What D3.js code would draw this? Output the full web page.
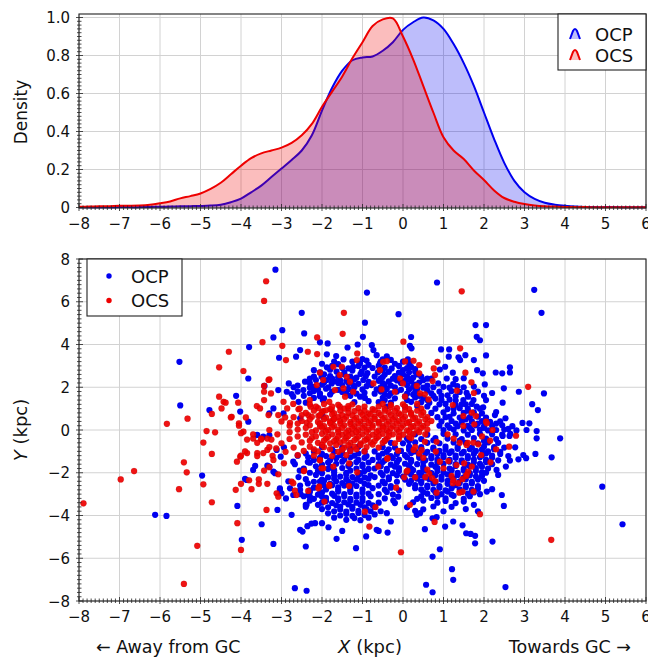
<!DOCTYPE html>
<html><head><meta charset="utf-8">
<script src="https://cdn.jsdelivr.net/npm/d3@7"></script>
<style>
body{margin:0;background:#fff;}
svg text{font-family:"DejaVu Sans",sans-serif;fill:#111;}
</style></head>
<body><svg id="c" width="648" height="660"></svg>
<script>
// ---------- DATA ----------
const kdeX = [-8,-7.75,-7.5,-7.25,-7,-6.75,-6.5,-6.25,-6,-5.75,-5.5,-5.25,-5,-4.75,-4.5,-4.25,-4,-3.75,-3.5,-3.25,-3,-2.75,-2.5,-2.25,-2,-1.75,-1.5,-1.25,-1,-0.75,-0.5,-0.25,0,0.25,0.5,0.75,1,1.25,1.5,1.75,2,2.25,2.5,2.75,3,3.25,3.5,3.75,4,4.25,4.5,4.75,5,5.25,5.5,5.75,6];
const kdeOCP = [0.001,0.001,0.001,0.001,0.002,0.002,0.002,0.003,0.004,0.005,0.006,0.007,0.008,0.01,0.015,0.028,0.047,0.08,0.115,0.16,0.205,0.25,0.3,0.38,0.51,0.63,0.72,0.775,0.79,0.795,0.825,0.87,0.935,0.975,1.0,0.985,0.94,0.86,0.76,0.64,0.5,0.36,0.235,0.14,0.08,0.045,0.025,0.015,0.009,0.005,0.003,0.002,0.002,0.002,0.001,0.001,0.001];
const kdeOCS = [0.004,0.005,0.006,0.007,0.009,0.009,0.01,0.014,0.022,0.032,0.048,0.06,0.074,0.098,0.13,0.175,0.22,0.26,0.285,0.3,0.315,0.34,0.38,0.44,0.53,0.61,0.69,0.785,0.87,0.955,0.99,0.995,0.9,0.78,0.64,0.5,0.37,0.3,0.255,0.195,0.145,0.09,0.05,0.03,0.018,0.011,0.007,0.005,0.003,0.002,0.002,0.001,0.001,0.001,0.001,0.001,0.001];

const pointsOCP = [
[-3.15,7.5],[-5.52,3.19],[-5.5,1.15],[-2.5,5.48],[-2.44,4.52],[-2.98,4.67],[-3.2,4.33],[-3.06,3.38],[-3.8,3.88],[-3.82,2.41],[-4.12,1.6],[-4.78,0.93],[-4.02,0.86],[-3.82,0.39],[-2.54,3.74],[-2.64,3.43],[-3.42,2.06],[-3.08,1.87],[-2.82,2.18],[-2.05,4.1],[-1.86,4.05],[-1.88,3.54],[-1.65,3.46],[-1.37,3.86],[-1.12,4.0],[-0.99,4.36],[-0.94,5.02],
[-3.3,0.78],[-3.2,1.01],[-2.95,0.78],[-2.54,0.55],[-1.97,0.62],
[0.84,6.9],[3.24,6.56],[3.42,5.48],[-0.89,6.43],[-0.11,5.42],[1.79,4.91],[2.05,4.91],[1.82,4.36],[1.9,4.2],[0.2,4.35],[0.17,3.94],[0.21,3.82],[0.94,3.77],[1.14,3.77],[1.13,3.43],[1.37,3.4],[1.41,3.27],[1.54,3.5],[1.75,3.27],[2.05,3.49],[-0.77,3.97],[-0.73,3.74],
[1.83,2.8],[1.97,2.65],[2.29,2.69],[2.45,2.65],[2.64,2.93],[2.64,2.69],[2.02,2.13],[2.2,1.73],[2.49,1.95],[2.86,1.79],[3.48,1.71],[3.19,1.21],[3.33,0.93],[2.53,0.55],[2.3,0.84],[2.95,0.33],[3.12,0.31],[2.46,1.28],[1.04,2.96],[1.23,2.68],[0.91,2.83],[1.08,2.41],[0.87,2.18],[1.24,2.15],[1.34,2.05],[1.57,1.74],[1.61,1.56],[1.49,1.4],[1.74,1.4],[1.82,1.09],[1.98,1.06],[2.27,0.7],
[4.92,-2.65],[5.42,-4.41],[3.88,-0.39],[3.3,-0.39],[3.67,-1.28],[3.27,-1.12],[2.97,-1.17],[3.04,-1.32],[2.85,-1.37],[2.64,-1.43],[2.54,-1.71],[2.31,-1.87],[2.35,-2.1],[2.44,-3.04],[2.49,-3.55],[2.21,-5.22],[2.2,-2.77],[2.07,-2.88],[2.46,-0.28],[2.63,-0.28],[2.77,-0.81],[1.78,-4.95],[1.67,-4.86],[1.56,-4.83],[1.78,-5.3],[1.24,-4.28],[1.04,-4.52],[0.91,-5.58],[0.73,-5.92],[0.54,-4.64],[0.83,-4.08],[0.34,-3.97],[0.42,-3.89],[0.5,-3.71],[0.73,-4.13],[-0.38,-4.8],[-0.65,-4.67],[-0.3,-4.28],[-0.4,-3.89],[-0.12,-3.12],[-0.24,-3.3],[2.53,-7.35],[1.24,-7.01],[1.21,-6.51],[0.73,-7.59],[0.57,-7.24],[-0.91,-4.98],[-0.6,-4.72],[1.47,-4.46],[-2.67,-7.4],[-2.38,-7.52],
[-4.96,-2.13],[-6.12,-3.97],[-5.84,-4.02],[-4.09,-3.55],[-3.98,-5.14],[-3.49,-4.41],[-3.2,-5.33],[-3.1,-3.74],[-2.75,-3.97],[-2.4,-5.45],[-2.4,-3.5],[-2.54,-4.67],[-2.48,-4.75],[-2.36,-4.5],[-2.26,-4.38],[-2.17,-4.36],[-2.0,-4.36],[-1.84,-4.55],[-1.5,-4.72],[-1.64,-5.09],[-1.16,-5.53],[-3.65,-1.68],[-3.7,-1.87],[-3.9,-2.29],[-3.86,-2.34],[-3.35,-1.67],[-3.02,-1.25],[-3.16,-2.02],[-3.3,-1.71],[-3.2,-1.95],[-3.12,-0.93],[-2.94,-0.81],[-2.71,-1.48],[-2.34,-1.28],[-2.3,-1.53],[-3.04,-2.73],[-3.0,-2.96],[-2.79,-2.73],[-2.71,-3.04],[-2.54,-2.8],[-2.38,-3.5],[-2.34,-3.04],[-2.3,-3.12],[-2.05,-2.96],[-1.97,-2.57],[-2.05,-2.41],[-3.6,-0.23],[-3.45,-0.31],[-3.3,-0.25],
[-1.47,3.3],[-1.0,3.32],[-0.9,3.25],[-2.0,3.1],[-1.6,3.08],[-1.06,3.12],[-0.85,3.05],[-1.88,2.93],[-1.5,2.9],[-1.35,2.88],[-1.23,2.96],[-0.95,2.92],[-2.05,2.7],[-1.64,2.73],[-1.45,2.68],[-1.02,2.73],[-0.88,2.66],[-2.2,2.5],[-2.01,2.49],[-1.8,2.52],[-1.6,2.47],[-1.3,2.5],[-1.15,2.45],[-0.92,2.52],[-2.42,2.26],[-2.15,2.34],[-1.88,2.34],[-1.7,2.28],[-1.55,2.32],[-1.4,2.3],[-0.98,2.34],[-0.85,2.25],[-2.6,2.08],[-2.21,2.02],[-2.0,2.12],[-1.76,2.18],[-1.5,2.1],[-1.23,2.1],[-1.1,2.16],[-0.9,2.05],[-2.87,1.79],[-2.46,1.87],[-2.1,1.9],[-1.9,1.93],[-1.6,1.88],[-1.35,1.92],[-1.0,1.9],[-2.75,1.68],[-2.3,1.72],[-2.05,1.7],[-1.8,1.66],[-1.4,1.72],[-1.15,1.7],[-0.95,1.74],[-2.71,1.56],[-2.2,1.5],[-1.95,1.48],[-1.06,1.56],[-0.94,1.5],[-2.58,1.32],[-2.4,1.28],[-1.98,1.4],[-1.2,1.3],
[-0.65,3.5],[-0.4,3.45],[-0.5,3.3],[-0.3,3.28],[0.12,3.3],[-0.57,3.11],[-0.2,3.1],[0.15,3.12],[-0.75,2.9],[-0.45,2.92],[-0.28,2.88],[0.1,2.9],[0.2,2.95],[-0.62,2.7],[-0.35,2.72],[-0.1,2.68],[0.15,2.7],[0.3,2.72],[-0.7,2.5],[-0.5,2.48],[-0.2,2.52],[0.1,2.5],[0.25,2.45],[0.45,2.5],[-0.6,2.3],[-0.35,2.28],[-0.15,2.32],[0.05,2.3],[0.2,2.27],[0.5,2.33],[-0.78,2.1],[-0.45,2.12],[-0.3,2.08],[0.1,2.1],[0.3,2.12],[0.6,2.08],[-0.65,1.9],[-0.4,1.92],[-0.05,1.88],[0.15,1.9],[0.35,1.93],[-0.7,1.7],[-0.45,1.68],[-0.3,1.72],[0.1,1.7],[0.25,1.66],[0.7,1.72],[-0.5,1.5],[-0.2,1.48],[0.3,1.52],[0.5,1.5],[0.8,1.47],[-0.6,1.3],[-0.3,1.28],[0.2,1.32],[0.45,1.3],[0.65,1.27],[-0.4,1.1],[0.05,1.08],[0.35,1.12],[0.6,1.1],
[0.7,2.4],[1.3,2.38],[1.5,2.42],[0.75,2.0],[1.0,2.02],[1.15,1.98],[1.5,2.0],[1.75,2.03],[0.9,1.8],[1.2,1.82],[1.4,1.78],[1.85,1.8],[0.95,1.6],[1.1,1.62],[1.3,1.58],[2.0,1.6],[0.95,1.4],[1.15,1.42],[1.3,1.38],[2.05,1.4],[0.9,1.2],[1.05,1.22],[1.3,1.18],[1.55,1.2],[1.7,1.22],[0.8,1.0],[1.1,0.98],[1.4,1.02],[1.6,1.0],[0.7,0.8],[1.0,0.82],[1.25,0.78],[1.5,0.8],[1.75,0.82],[1.95,0.78],[0.85,0.6],[1.15,0.62],[1.4,0.58],[1.65,0.6],[1.85,0.62],[2.05,0.58],[0.95,0.4],[1.2,0.42],[1.45,0.38],[1.7,0.4],[1.95,0.42],[2.15,0.38],[2.4,0.4],[0.9,0.2],[1.1,0.22],[1.35,0.18],[1.6,0.2],[1.8,0.22],[2.0,0.18],[2.2,0.2],[2.45,0.22],[2.7,0.18],[1.0,0.0],[1.25,0.02],[1.5,-0.02],[1.7,0.0],[1.9,0.02],[2.1,-0.02],[2.3,0.0],[2.5,0.02],[2.8,-0.02],[3.05,0.0],[3.3,-0.05],
[0.3,-0.2],[0.6,-0.22],[1.0,-0.18],[1.3,-0.2],[1.6,-0.22],[1.9,-0.18],[2.2,-0.2],[2.45,-0.22],[2.65,-0.18],[0.1,-0.4],[0.45,-0.42],[0.8,-0.38],[1.1,-0.4],[1.45,-0.42],[1.75,-0.38],[2.05,-0.4],[2.3,-0.42],[-0.3,-0.6],[0.0,-0.62],[0.3,-0.58],[0.6,-0.6],[0.9,-0.62],[1.25,-0.58],[1.55,-0.6],[1.85,-0.62],[2.1,-0.58],[2.35,-0.6],[-0.5,-0.8],[-0.2,-0.82],[0.15,-0.78],[0.45,-0.8],[0.75,-0.82],[1.05,-0.78],[1.35,-0.8],[1.7,-0.82],[2.0,-0.78],[2.25,-0.8],[2.5,-0.82],[-0.7,-1.0],[-0.4,-1.02],[-0.05,-0.98],[0.3,-1.0],[0.6,-1.02],[0.9,-0.98],[1.2,-1.0],[1.5,-1.02],[1.8,-0.98],[2.1,-1.0],[2.4,-1.02],[-0.6,-1.2],[-0.3,-1.22],[0.05,-1.18],[0.4,-1.2],[0.7,-1.22],[1.0,-1.18],[1.3,-1.2],[1.6,-1.22],[1.95,-1.18],[2.2,-1.2],[2.6,-1.22],[-0.75,-1.4],[-0.45,-1.42],[-0.1,-1.38],[0.2,-1.4],[0.55,-1.42],[0.85,-1.38],[1.15,-1.4],[1.45,-1.42],[1.75,-1.38],[2.05,-1.4],[2.35,-1.42],[-0.6,-1.6],[-0.3,-1.62],[0.05,-1.58],[0.35,-1.6],[0.7,-1.62],[1.0,-1.58],[1.3,-1.6],[1.6,-1.62],[1.9,-1.58],[2.2,-1.6],[-0.7,-1.8],[-0.4,-1.82],[-0.1,-1.78],[0.2,-1.8],[0.5,-1.82],[0.85,-1.78],[1.15,-1.8],[1.5,-1.82],[1.8,-1.78],[2.1,-1.8],[-0.55,-2.0],[-0.25,-2.02],[0.1,-1.98],[0.4,-2.0],[0.7,-2.02],[1.0,-1.98],[1.35,-2.0],[1.65,-2.02],[1.95,-1.98],[-0.7,-2.2],[-0.35,-2.22],[0.0,-2.18],[0.3,-2.2],[0.55,-2.22],[0.95,-2.18],[1.2,-2.2],[1.5,-2.22],[1.8,-2.18],[-0.5,-2.4],[-0.15,-2.42],[0.2,-2.38],[0.45,-2.4],[0.8,-2.42],[1.1,-2.38],[1.4,-2.4],[1.7,-2.42],[2.0,-2.38],[-0.6,-2.6],[-0.3,-2.62],[0.3,-2.58],[0.6,-2.6],[0.9,-2.62],[1.3,-2.58],[1.55,-2.6],[1.85,-2.62],[-0.45,-2.8],[-0.1,-2.82],[0.45,-2.78],[0.75,-2.8],[1.05,-2.82],[1.4,-2.78],[1.7,-2.8],[-0.6,-3.0],[-0.25,-3.02],[0.6,-2.98],[0.95,-3.0],[1.2,-3.02],[1.6,-2.98],[1.9,-3.0],[-0.45,-3.2],[0.35,-3.22],[0.7,-3.18],[1.05,-3.2],[1.5,-3.22],[-0.6,-3.4],[-0.2,-3.42],[0.25,-3.38],[0.85,-3.4],[1.3,-3.42],[1.75,-3.5],[-0.7,-3.6],[0.1,-3.62],[0.75,-3.58],[1.2,-3.6],[1.55,-3.7],[-0.55,-3.8],[0.3,-3.78],[1.0,-3.8],[1.85,-3.8],
[-2.0,-0.8],[-1.5,-0.82],[-1.1,-0.78],[-2.2,-1.0],[-1.7,-1.02],[-1.3,-0.98],[-0.95,-1.0],[-2.6,-1.2],[-1.9,-1.22],[-1.55,-1.18],[-1.2,-1.2],[-0.9,-1.22],[-2.2,-1.4],[-1.8,-1.42],[-1.45,-1.38],[-1.1,-1.4],[-2.67,-1.6],[-2.0,-1.62],[-1.65,-1.58],[-1.3,-1.6],[-1.0,-1.62],[-2.45,-1.8],[-1.85,-1.82],[-1.5,-1.78],[-1.15,-1.8],[-0.85,-1.82],[-2.3,-2.0],[-2.0,-2.02],[-1.7,-1.98],[-1.4,-2.0],[-1.05,-2.02],[-2.58,-2.2],[-1.85,-2.22],[-1.55,-2.18],[-1.25,-2.2],[-0.95,-2.22],[-2.83,-2.4],[-2.2,-2.42],[-1.95,-2.38],[-1.65,-2.4],[-1.35,-2.42],[-1.05,-2.38],[-2.54,-2.6],[-2.05,-2.62],[-1.75,-2.58],[-1.45,-2.6],[-1.15,-2.62],[-0.85,-2.58],[-3.04,-2.8],[-2.3,-2.82],[-1.9,-2.78],[-1.6,-2.8],[-1.3,-2.82],[-1.0,-2.78],[-2.53,-3.0],[-2.1,-3.02],[-1.75,-2.98],[-1.45,-3.0],[-1.15,-3.02],[-0.85,-2.98],[-2.89,-3.2],[-2.2,-3.22],[-1.9,-3.18],[-1.6,-3.2],[-1.3,-3.22],[-1.0,-3.18],[-2.0,-3.4],[-1.75,-3.42],[-1.45,-3.38],[-1.15,-3.4],[-0.85,-3.42],[-2.4,-3.6],[-1.85,-3.62],[-1.55,-3.58],[-1.25,-3.6],[-0.95,-3.62],[-1.7,-3.8],[-1.4,-3.82],[-1.1,-3.78],[-0.8,-3.8],[-1.55,-4.0],[-1.25,-4.02],[-0.95,-3.98],[-1.4,-4.2],[-1.05,-4.22],
[-1.75,-0.9],[-1.3,-0.88],[-2.4,-1.1],[-2.0,-1.12],[-1.5,-1.08],[-1.1,-1.1],[-2.05,-1.3],[-1.65,-1.32],[-1.3,-1.28],[-0.95,-1.3],[-2.35,-1.5],[-1.85,-1.52],[-1.5,-1.48],[-1.15,-1.5],[-0.85,-1.52],[-2.15,-1.7],[-1.8,-1.72],[-1.35,-1.68],[-1.0,-1.7],[-2.55,-1.9],[-2.1,-1.92],[-1.7,-1.88],[-1.3,-1.9],[-0.95,-1.92],[-2.15,-2.1],[-1.7,-2.12],[-1.4,-2.08],[-1.1,-2.1],[-0.8,-2.12],[-2.4,-2.3],[-2.0,-2.32],[-1.7,-2.28],[-1.4,-2.3],[-1.15,-2.32],[-0.85,-2.28],[-2.35,-2.5],[-1.8,-2.52],[-1.5,-2.48],[-1.25,-2.5],[-0.95,-2.52],[-2.2,-2.7],[-1.9,-2.72],[-1.6,-2.68],[-1.3,-2.7],[-0.75,-2.72],[-2.3,-2.9],[-2.0,-2.92],[-1.6,-2.88],[-1.3,-2.9],[-1.0,-2.92],[-2.45,-3.1],[-2.0,-3.12],[-1.7,-3.08],[-1.45,-3.1],[-1.15,-3.12],[-0.8,-3.1],[-2.3,-3.3],[-1.9,-3.32],[-1.6,-3.28],[-1.3,-3.3],[-1.0,-3.32],[-2.1,-3.5],[-1.65,-3.52],[-1.35,-3.48],[-1.05,-3.5],[-0.75,-3.52],[-2.0,-3.7],[-1.55,-3.72],[-1.25,-3.68],[-0.9,-3.7],[-1.85,-3.9],[-1.4,-3.92],[-1.1,-3.88],[-0.7,-3.95],[-1.7,-4.1],[-1.2,-4.12],[-0.85,-4.1],
[-0.45,-0.5],[0.15,-0.52],[0.75,-0.48],[1.4,-0.5],[2.0,-0.52],[-0.35,-0.9],[0.15,-0.92],[0.45,-0.88],[0.75,-0.9],[1.05,-0.92],[1.35,-0.88],[1.65,-0.9],[1.95,-0.92],[2.25,-0.9],[-0.5,-1.1],[-0.15,-1.12],[0.2,-1.08],[0.55,-1.1],[0.85,-1.12],[1.15,-1.08],[1.45,-1.1],[1.75,-1.12],[2.05,-1.1],[2.4,-1.12],[-0.6,-1.3],[-0.25,-1.32],[0.1,-1.28],[0.4,-1.3],[0.7,-1.32],[1.0,-1.28],[1.3,-1.3],[1.6,-1.32],[1.9,-1.28],[2.2,-1.3],[-0.5,-1.5],[-0.15,-1.52],[0.2,-1.48],[0.5,-1.5],[0.85,-1.52],[1.15,-1.48],[1.45,-1.5],[1.75,-1.52],[2.05,-1.5],[-0.55,-1.7],[-0.2,-1.72],[0.15,-1.68],[0.5,-1.7],[0.8,-1.72],[1.3,-1.68],[1.65,-1.7],[1.95,-1.72],[-0.4,-1.9],[-0.1,-1.92],[0.25,-1.88],[0.55,-1.9],[0.85,-1.92],[1.2,-1.88],[1.5,-1.9],[1.8,-1.92],[2.05,-2.0],[-0.5,-2.1],[-0.15,-2.12],[0.2,-2.08],[0.45,-2.1],[0.8,-2.12],[1.1,-2.08],[1.35,-2.1],[1.65,-2.12],[1.95,-2.15],[-0.35,-2.3],[0.05,-2.32],[0.35,-2.28],[0.65,-2.3],[0.95,-2.32],[1.25,-2.28],[1.55,-2.3],[1.85,-2.32],[-0.45,-2.5],[0.15,-2.52],[0.45,-2.48],[0.75,-2.5],[1.1,-2.52],[1.4,-2.48],[1.7,-2.5],[-0.3,-2.7],[0.3,-2.72],[0.6,-2.68],[0.9,-2.7],[1.2,-2.72],[1.55,-2.68],[1.85,-2.75],[-0.4,-2.9],[0.5,-2.9],[0.8,-2.92],[1.1,-2.88],[1.45,-2.9],[1.75,-2.92],[0.45,-3.1],[0.85,-3.12],[1.25,-3.08],[1.65,-3.1],[0.5,-3.3],[1.05,-3.32],[1.5,-3.35],
[-1.7,3.2],[-1.25,3.2],[-1.75,3.0],[-1.1,3.0],[-2.2,2.8],[-1.8,2.82],[-1.25,2.78],[-1.95,2.6],[-1.45,2.6],[-1.05,2.62],[-2.3,2.4],[-1.75,2.4],[-1.2,2.38],[-2.3,2.2],[-1.95,2.22],[-1.6,2.2],[-1.35,2.2],[-2.7,2.0],[-2.3,1.98],[-1.85,2.0],[-1.2,2.0],[-2.6,1.8],[-2.2,1.82],[-1.75,1.8],[-1.5,1.78],[-1.25,1.82],[-2.45,1.6],[-2.05,1.58],[-1.3,1.6],[-0.85,1.35],[-0.55,3.2],[0.0,3.2],[-0.6,3.0],[-0.1,3.0],[-0.5,2.8],[0.0,2.8],[0.3,2.85],[-0.45,2.6],[0.0,2.6],[0.35,2.6],[-0.55,2.4],[-0.25,2.4],[0.15,2.38],[0.6,2.4],[-0.5,2.2],[-0.05,2.2],[0.4,2.22],[-0.55,2.0],[-0.2,2.0],[0.25,2.02],[0.5,1.98],[-0.55,1.8],[-0.15,1.8],[0.3,1.78],[0.6,1.85],[-0.35,1.6],[0.05,1.58],[0.4,1.6],[0.75,1.6],[-0.45,1.4],[0.1,1.4],[0.6,1.4],[1.6,1.6],[1.45,1.2],[1.25,1.0],[1.9,1.0],[1.6,0.9],[1.05,0.6],[1.55,0.5],[1.3,0.3],[1.85,0.3],[2.3,0.3],[1.15,0.1],[1.65,0.1],[2.0,0.1],[2.6,0.05]
];

const pointsOCS = [
[-3.43,6.04],[-3.38,6.96],[-3.47,4.11],[-2.98,3.94],[-4.3,3.66],[-2.89,3.27],[-4.54,2.93],[-3.94,2.76],[-5.83,0.29],[-5.32,0.53],[-4.54,1.56],[-4.43,1.32],[-4.38,1.28],[-4.48,1.01],[-4.23,0.62],[-4.05,0.31],[-3.94,-0.08],[-4.85,-0.05],[-4.64,-0.11],[-4.93,-0.59],[-3.3,2.37],[-3.43,1.79],[-3.26,1.71],[-3.61,1.12],
[-1.46,5.48],[-1.49,4.5],[-2.12,4.33],[-2.35,3.66],[-2.12,3.55],[-3.32,2.34],[-3.43,2.06],[-4.72,0.75],[-4.25,0.59],[-4.07,1.28],[-3.88,0.59],[-3.53,1.01],[-3.43,1.4],[-3.32,0.7],[-3.08,0.7],[-2.95,1.32],[-2.86,1.01],[-2.71,1.22],[-2.58,0.97],[-2.91,0.59],[-2.79,0.34],[-2.38,0.34],[-2.3,1.4],[-2.28,1.09],[-2.34,0.7],[-2.09,0.65],[-1.97,0.89],[-1.76,0.94],[-1.82,1.32],[-2.05,2.68],[-1.97,2.34],[-2.13,2.1],[-1.72,2.96],[-1.51,2.96],[-1.56,2.57],[-1.39,2.49],[-1.31,2.26],[-1.47,1.95],[-1.68,1.87],[-1.43,1.56],[-1.23,1.79],[-1.13,3.58],[-1.14,3.27],[-1.72,0.47],[-2.05,0.19],[-1.56,1.09],[-1.35,1.01],
[1.45,6.49],[3.09,2.02],[1.41,3.82],[1.54,2.68],[1.69,2.23],[0.01,4.13],[0.05,3.21],[0.26,3.24],[0.4,3.04],[0.4,2.65],[0.85,3.19],[0.76,2.88],[0.79,2.57],[0.73,2.29],[1.75,1.73],[1.33,1.84],[1.23,1.17],[1.7,0.81],[1.49,0.65],[1.8,0.65],[2.05,0.39],[-0.49,3.19],[-0.4,3.22],[-0.57,2.8],[-0.73,2.18],[-0.53,1.9],[-0.07,2.41],[0.0,2.18],[-0.2,1.79],[0.05,1.56],[0.34,2.06],[0.42,1.71],[0.54,1.67],[0.63,1.43],
[-7.89,-3.43],[-6.97,-2.31],[-6.64,-1.92],[-4.72,-1.12],[-5.41,-1.51],[-5.34,-1.98],[-5.53,-2.77],[-4.93,-2.54],[-4.72,-3.38],[-5.08,-5.42],[-5.41,-7.2],[-4.09,-4.36],[-4.0,-5.61],[-4.13,-2.8],[-4.0,-2.52],[-3.74,-2.77],[-3.8,-2.35],[-3.56,-2.31],[-3.56,-2.52],[-3.35,-2.52],[-3.37,-3.74],[-3.43,-1.9],[-3.08,-2.07],[-3.12,-2.96],[-3.08,-3.12],[-2.75,-2.41],[-2.71,-2.49],[-2.67,-2.84],[-2.63,-3.04],[-2.45,-1.92],[-2.34,-2.85],[-2.07,-2.65],[-1.94,-3.35],[-2.01,-1.79],[-3.3,-1.74],[-3.35,-0.93],[-3.22,-1.21],[-2.94,-1.56],[-3.13,-0.86],[-1.82,-2.62],[-1.33,-2.62],[-1.97,-1.79],[-1.13,-1.98],[-2.44,-1.9],
[3.66,-5.14],[-0.05,-5.72],[0.78,-4.3],[-0.83,-4.52],[1.9,-3.94],[0.17,-3.5],[-0.94,-3.82],[-0.68,-3.61],[-0.17,-2.7],[2.62,-0.78],[2.79,-0.27],
[1.47,-2.88],[1.39,-2.93],[1.74,-2.88],[0.83,-2.93],[1.23,-2.49],[1.47,-2.3],[1.56,-2.15],[1.61,-1.95],[1.51,-1.56],[1.7,-1.71],[1.32,-1.64],[1.12,-1.45],[0.91,-1.48],[0.6,-1.85],[0.65,-2.05],[0.72,-2.25],[0.8,-2.4],[0.55,-2.2],[1.0,-1.79],[0.81,-1.01],[0.46,-0.93],[0.54,-0.55],[0.26,-0.93],[0.09,-1.95],[0.03,-2.21],[-0.38,-1.32],[-0.61,-1.71],[-1.33,-1.56],[-1.72,-1.71],[-2.05,-1.4],[-1.82,-2.57],[-2.09,-2.73],
[1.74,-0.59],[1.86,-0.67],[1.57,-0.7],[1.93,-1.17],[2.16,-1.51],[2.21,0.0],[1.49,0.19],[1.76,0.27],[2.07,0.31],[2.15,-0.5],[2.3,-0.9],[1.95,-0.3],
[1.2,-2.15],[1.24,-2.34],[1.36,-2.49],[1.57,-2.1],[0.11,-1.9],[0.3,-2.21],[-0.39,-1.34],[-0.12,-0.97],[0.3,-0.8],[0.4,-1.1],[0.5,-1.3],[0.83,-0.55],[1.6,-0.6],[1.1,-0.2],[1.25,-0.4],[1.4,-0.6],
[-4.0,-0.15],[-3.85,-0.45],[-3.7,-0.4],[-3.5,-0.45],[-3.35,-0.4],[-3.25,-0.45],[-3.85,-1.08],[-4.02,-1.25],[-4.1,-1.48],[-3.6,-1.08],[-3.45,-1.08],[-3.7,-0.2],[-4.05,0.2],
[-2.3,1.2],[-1.95,1.22],[-1.6,1.18],[-1.25,1.2],[-0.5,1.22],[-0.3,1.18],[0.0,1.2],[0.35,1.22],
[-2.55,1.0],[-2.1,1.02],[-1.8,0.98],[-1.45,1.0],[-1.1,1.02],[-0.75,0.98],[-0.45,1.0],[-0.15,1.02],[0.15,0.98],[0.45,1.0],
[-2.4,0.8],[-2.0,0.82],[-1.7,0.78],[-1.35,0.8],[-1.05,0.82],[-0.85,0.78],[-0.6,0.8],[-0.35,0.82],[-0.1,0.78],[0.2,0.8],[0.5,0.82],
[-2.7,0.6],[-2.25,0.62],[-1.9,0.58],[-1.6,0.6],[-1.4,0.62],[-1.15,0.58],[-0.9,0.6],[-0.7,0.62],[-0.45,0.58],[-0.2,0.6],[0.05,0.62],[0.3,0.58],[0.6,0.6],
[-3.0,0.4],[-2.5,0.42],[-2.1,0.38],[-1.8,0.4],[-1.55,0.42],[-1.3,0.38],[-1.05,0.4],[-0.8,0.42],[-0.6,0.38],[-0.35,0.4],[-0.1,0.42],[0.15,0.38],[0.4,0.4],[0.7,0.42],
[-2.8,0.2],[-2.3,0.22],[-1.95,0.18],[-1.7,0.2],[-1.45,0.22],[-1.2,0.18],[-0.95,0.2],[-0.75,0.22],[-0.5,0.18],[-0.25,0.2],[0.0,0.22],[0.25,0.18],[0.5,0.2],
[-3.3,0.0],[-2.6,0.02],[-2.15,-0.02],[-1.85,0.0],[-1.6,0.02],[-1.35,-0.02],[-1.1,0.0],[-0.85,0.02],[-0.6,-0.02],[-0.4,0.0],[-0.15,0.02],[0.1,-0.02],[0.35,0.0],[0.6,0.02],
[-3.1,-0.2],[-2.4,-0.22],[-2.0,-0.18],[-1.75,-0.2],[-1.5,-0.22],[-1.25,-0.18],[-1.0,-0.2],[-0.75,-0.22],[-0.5,-0.18],[-0.25,-0.2],[0.0,-0.22],[0.25,-0.18],[0.55,-0.2],
[-3.5,-0.4],[-2.8,-0.42],[-2.25,-0.38],[-1.9,-0.4],[-1.65,-0.42],[-1.4,-0.38],[-1.15,-0.4],[-0.9,-0.42],[-0.65,-0.38],[-0.4,-0.4],[-0.1,-0.42],[0.2,-0.38],
[-3.6,-0.6],[-3.0,-0.62],[-2.5,-0.58],[-2.1,-0.6],[-1.8,-0.62],[-1.55,-0.58],[-1.3,-0.6],[-1.05,-0.62],[-0.8,-0.58],[-0.5,-0.6],[-0.2,-0.62],
[-3.3,-0.8],[-2.7,-0.82],[-2.3,-0.78],[-1.95,-0.8],[-1.45,-0.82],[-1.2,-0.78],[-0.9,-0.8],[-0.6,-0.82],
[-3.9,-1.0],[-2.9,-1.02],[-2.45,-0.98],[-2.1,-1.0],[-1.6,-1.02],[-1.3,-0.98],[-0.95,-1.0],
[-4.0,-1.2],[-3.6,-1.22],[-2.6,-1.18],[-2.2,-1.2],[-1.75,-1.22],[-1.4,-1.18],
[-3.2,-1.4],[-2.05,-1.42],
[-2.15,1.1],[-1.75,1.1],[-1.35,1.12],[-0.95,1.1],[-0.6,1.1],[-0.3,1.08],[0.05,1.1],[-2.2,0.9],[-1.9,0.92],[-1.55,0.9],[-1.2,0.88],[-0.95,0.9],[-0.7,0.92],[-0.45,0.9],[-0.2,0.88],[0.05,0.9],[0.35,0.9],[-2.5,0.7],[-2.05,0.7],[-1.75,0.72],[-1.5,0.7],[-1.25,0.68],[-1.0,0.7],[-0.8,0.72],[-0.55,0.7],[-0.3,0.68],[-0.05,0.7],[0.2,0.72],[0.45,0.7],[-2.3,0.5],[-1.95,0.5],[-1.7,0.52],[-1.45,0.5],[-1.2,0.48],[-0.95,0.5],[-0.7,0.52],[-0.5,0.5],[-0.25,0.48],[0.0,0.5],[0.25,0.52],[0.55,0.5],[-2.6,0.3],[-2.05,0.3],[-1.8,0.32],[-1.55,0.3],[-1.3,0.28],[-1.1,0.3],[-0.85,0.32],[-0.6,0.3],[-0.4,0.28],[-0.15,0.3],[0.1,0.32],[0.35,0.3],[0.6,0.3],[-2.4,0.1],[-2.0,0.1],[-1.75,0.12],[-1.5,0.1],[-1.25,0.08],[-1.0,0.1],[-0.75,0.12],[-0.5,0.1],[-0.3,0.08],[-0.05,0.1],[0.2,0.12],[0.45,0.1],[-2.8,-0.1],[-2.25,-0.1],[-1.9,-0.08],[-1.6,-0.1],[-1.4,-0.12],[-1.15,-0.1],[-0.9,-0.08],[-0.65,-0.1],[-0.35,-0.12],[-0.1,-0.1],[0.15,-0.08],[0.4,-0.1],[-2.6,-0.3],[-2.15,-0.3],[-1.85,-0.32],[-1.6,-0.3],[-1.35,-0.28],[-1.1,-0.3],[-0.85,-0.32],[-0.6,-0.3],[-0.35,-0.28],[-0.1,-0.3],[0.15,-0.32],[-2.3,-0.5],[-1.95,-0.5],[-1.7,-0.52],[-1.45,-0.5],[-1.2,-0.48],[-0.95,-0.5],[-0.7,-0.52],[-0.45,-0.5],[-2.0,-0.7],[-1.65,-0.7],[-1.35,-0.72],[-1.05,-0.7],[-0.75,-0.68],[-2.2,-0.9],[-1.8,-0.9],[-1.5,-0.92],[-1.15,-0.9]
];

const xTicks = [-8,-7,-6,-5,-4,-3,-2,-1,0,1,2,3,4,5,6];
const yTicksTop = [0,0.2,0.4,0.6,0.8,1.0];
const yTicksTopLabels = ["0","0.2","0.4","0.6","0.8","1.0"];
const yTicksBottom = [-8,-6,-4,-2,0,2,4,6,8];
const seriesNames = ["OCP","OCS"];
const seriesColors = ["#0000f0","#ee0000"];

// ---------- LAYOUT ----------
const svg = d3.select("#c");
const L = 79, R = 646;
const x = d3.scaleLinear().domain([-8,6]).range([L,R]);
const yTop = d3.scaleLinear().domain([0,1]).range([207.5,17.5]);
const topFrame = {t:14, b:208};
const yBot = d3.scaleLinear().domain([-8,8]).range([601,259]);
const minus = s => String(s).replace("-","\u2212");
const grid = "#d2d2d2";
const dotR = 3.1;

function drawFrame(t,b){
  svg.append("rect").attr("x",L).attr("y",t).attr("width",R-L).attr("height",b-t)
    .attr("fill","none").attr("stroke","#222").attr("stroke-width",1.1);
}

// ===== TOP PANEL =====
const gT = svg.append("g");
xTicks.forEach(v=>gT.append("line").attr("x1",x(v)).attr("x2",x(v)).attr("y1",topFrame.t).attr("y2",topFrame.b).attr("stroke",grid));
yTicksTop.forEach(v=>gT.append("line").attr("x1",L).attr("x2",R).attr("y1",yTop(v)).attr("y2",yTop(v)).attr("stroke",grid));

const kde = (vals)=>kdeX.map((xv,i)=>[xv,vals[i]]);
const area = d3.area().x(d=>x(d[0])).y0(yTop(0)).y1(d=>yTop(d[1])).curve(d3.curveCatmullRom);
const line = d3.line().x(d=>x(d[0])).y(d=>yTop(d[1])).curve(d3.curveCatmullRom);
[[kdeOCP,0],[kdeOCS,1]].forEach(([vals,i])=>{
  gT.append("path").datum(kde(vals)).attr("d",area).attr("fill",seriesColors[i]).attr("fill-opacity",0.26);
  gT.append("path").datum(kde(vals)).attr("d",line).attr("fill","none").attr("stroke",seriesColors[i]).attr("stroke-width",2);
});
drawFrame(topFrame.t, topFrame.b);

const xMinor = d3.range(-80,61).map(v=>v/10);
xMinor.forEach(v=>{const maj=Math.abs(v-Math.round(v))<1e-6;
  gT.append("line").attr("x1",x(v)).attr("x2",x(v)).attr("y1",topFrame.b-(maj?4:2.5)).attr("y2",topFrame.b+(maj?3:2)).attr("stroke","#222").attr("stroke-width",0.8);});
d3.range(0,51).map(v=>v/50).forEach((v,i)=>{const maj=i%10===0;
  gT.append("line").attr("x1",L-(maj?3:2)).attr("x2",L+(maj?4:2.5)).attr("y1",yTop(v)).attr("y2",yTop(v)).attr("stroke","#222").attr("stroke-width",0.8);});
xTicks.forEach(v=>gT.append("text").attr("x",x(v)).attr("y",229).attr("text-anchor","middle").attr("font-size",15).text(minus(v)));
yTicksTop.forEach((v,i)=>gT.append("text").attr("x",70).attr("y",yTop(v)+5.5).attr("text-anchor","end").attr("font-size",15).text(yTicksTopLabels[i]));
gT.append("text").attr("transform","translate(27,112) rotate(-90)").attr("text-anchor","middle").attr("font-size",17).text("Density");

const lg = svg.append("g");
lg.append("rect").attr("x",558).attr("y",14).attr("width",88).attr("height",56).attr("fill","#fff").attr("stroke","#222").attr("stroke-width",1.1);
seriesNames.forEach((n,i)=>{
  const cy = 34 + i*21;
  const shape = `M570,${cy+5} L573,${cy-3} Q575,${cy-7} 577,${cy-3} L580,${cy+5}`;
  lg.append("path").attr("d",shape+" Z").attr("fill",seriesColors[i]).attr("fill-opacity",0.26);
  lg.append("path").attr("d",shape).attr("fill","none").attr("stroke",seriesColors[i]).attr("stroke-width",2);
  lg.append("text").attr("x",595).attr("y",cy+6.5).attr("font-size",18).text(n);
});

// ===== BOTTOM PANEL =====
const gB = svg.append("g");
xTicks.forEach(v=>gB.append("line").attr("x1",x(v)).attr("x2",x(v)).attr("y1",259).attr("y2",601).attr("stroke",grid));
yTicksBottom.forEach(v=>gB.append("line").attr("x1",L).attr("x2",R).attr("y1",yBot(v)).attr("y2",yBot(v)).attr("stroke",grid));

gB.selectAll("circle.ocp").data(pointsOCP).join("circle").attr("class","ocp")
  .attr("cx",d=>x(d[0])).attr("cy",d=>yBot(d[1])).attr("r",dotR).attr("fill",seriesColors[0]);
gB.selectAll("circle.ocs").data(pointsOCS).join("circle").attr("class","ocs")
  .attr("cx",d=>x(d[0])).attr("cy",d=>yBot(d[1])).attr("r",dotR).attr("fill",seriesColors[1]).attr("fill-opacity",0.92)
  .attr("stroke","#700000").attr("stroke-opacity",0.18).attr("stroke-width",0.6);
drawFrame(259,601);

xMinor.forEach(v=>{const maj=Math.abs(v-Math.round(v))<1e-6;
  gB.append("line").attr("x1",x(v)).attr("x2",x(v)).attr("y1",601-(maj?4:2.5)).attr("y2",601+(maj?3:2)).attr("stroke","#222").attr("stroke-width",0.8);});
d3.range(-40,41).map(v=>v/5).forEach(v=>{const maj=Math.abs(v/2-Math.round(v/2))<1e-6;
  gB.append("line").attr("x1",L-(maj?3:2)).attr("x2",L+(maj?4:2.5)).attr("y1",yBot(v)).attr("y2",yBot(v)).attr("stroke","#222").attr("stroke-width",0.8);});
xTicks.forEach(v=>gB.append("text").attr("x",x(v)).attr("y",622).attr("text-anchor","middle").attr("font-size",15).text(minus(v)));
yTicksBottom.forEach(v=>gB.append("text").attr("x",70).attr("y",yBot(v)+5.5).attr("text-anchor","end").attr("font-size",15).text(minus(v)));

const yl = gB.append("text").attr("transform","translate(27,430) rotate(-90)").attr("text-anchor","middle").attr("font-size",18);
yl.append("tspan").attr("font-style","italic").text("Y");
yl.append("tspan").text(" (kpc)");
const xl = gB.append("text").attr("x",370).attr("y",653).attr("text-anchor","middle").attr("font-size",18);
xl.append("tspan").attr("font-style","italic").text("X");
xl.append("tspan").text(" (kpc)");
gB.append("text").attr("x",96).attr("y",653).attr("font-size",17.5).text("\u2190 Away from GC");
gB.append("text").attr("x",631).attr("y",653).attr("text-anchor","end").attr("font-size",17.5).text("Towards GC \u2192");

const lb = svg.append("g");
lb.append("rect").attr("x",87).attr("y",259).attr("width",95).attr("height",57).attr("fill","#fff").attr("stroke","#222").attr("stroke-width",1.1);
seriesNames.forEach((n,i)=>{
  const cy = 276 + i*24.5;
  lb.append("circle").attr("cx",109).attr("cy",cy).attr("r",2.7).attr("fill",seriesColors[i]);
  lb.append("text").attr("x",131).attr("y",cy+6.5).attr("font-size",18).text(n);
});
</script></body></html>
